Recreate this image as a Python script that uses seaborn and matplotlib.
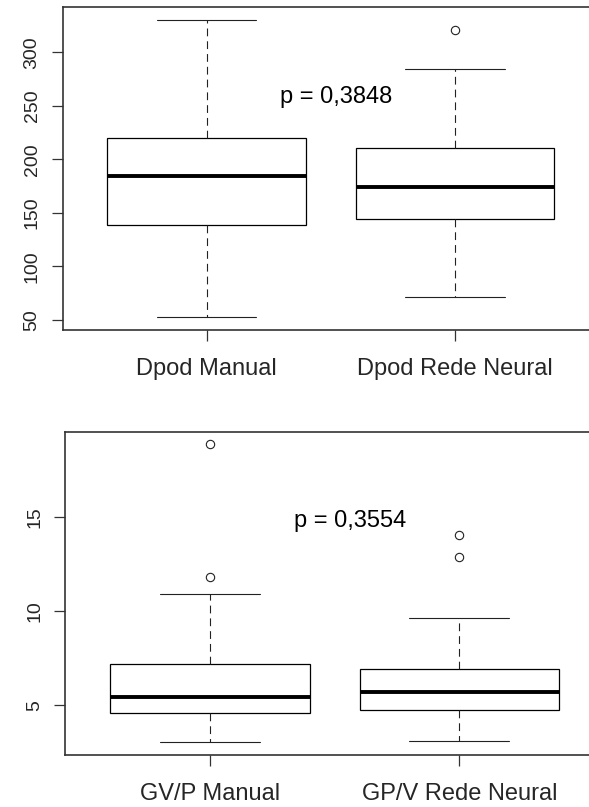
import numpy as np
import pandas as pd
import matplotlib
matplotlib.use("Agg")
import matplotlib.pyplot as plt
import seaborn as sns

# ---- data (five-number summaries + outliers) ----
top_categories = ["Dpod Manual", "Dpod Rede Neural"]
top_lo = [52.5, 71.0]
top_q1 = [138.5, 144.0]
top_med = [184.8, 174.5]
top_q3 = [220.0, 211.0]
top_hi = [330.0, 284.0]
top_out = [[], [321.0]]
top_yticks = [50, 100, 150, 200, 250, 300]
top_ptext = "p = 0,3848"

bot_categories = ["GV/P Manual", "GP/V Rede Neural"]
bot_lo = [3.03, 3.1]
bot_q1 = [4.56, 4.74]
bot_med = [5.45, 5.7]
bot_q3 = [7.17, 6.9]
bot_hi = [10.9, 9.62]
bot_out = [[11.8, 18.85], [12.85, 14.05]]
bot_yticks = [5, 10, 15]
bot_ptext = "p = 0,3554"


def observations(cats, lo, q1, med, q3, hi, outs):
    """Build observations whose quartiles / whiskers equal the read summary."""
    rows = []
    for c, a, b, m, d, e, o in zip(cats, lo, q1, med, q3, hi, outs):
        k = len(o)
        r = k + 1
        vals = [a] + [b] * r + [m] * r + [d] * r + [e] + list(o)
        rows += [(c, v) for v in vals]
    return pd.DataFrame(rows, columns=["group", "value"])


sns.set_style("white")
plt.rcParams["font.family"] = ["Liberation Sans", "DejaVu Sans"]

fig = plt.figure(figsize=(5.89, 8.07), dpi=100)
ax1 = fig.add_axes([0.1065, 0.5911, 0.9105, 0.4002])
ax2 = fig.add_axes([0.111, 0.0644, 0.9144, 0.4006])

box_kw = dict(
    width=0.8,
    whis=1.5,
    color="white",
    linecolor="black",
    linewidth=0.8,
    saturation=1,
    boxprops=dict(linewidth=0.9, edgecolor="black", facecolor="white"),
    medianprops=dict(linewidth=2.8, color="black"),
    whiskerprops=dict(linewidth=0.8, color="#222222", linestyle=(0, (7.0, 4.5))),
    capprops=dict(linewidth=0.8, color="#222222"),
    flierprops=dict(marker="o", markersize=6, markerfacecolor="none",
                    markeredgecolor="#222222", markeredgewidth=0.8),
)

panels = [
    (ax1, top_categories, top_lo, top_q1, top_med, top_q3, top_hi, top_out,
     top_yticks, (40.6, 342.3), top_ptext, (0.52, 258.5)),
    (ax2, bot_categories, bot_lo, bot_q1, bot_med, bot_q3, bot_hi, bot_out,
     bot_yticks, (2.35, 19.51), bot_ptext, (0.56, 14.75)),
]

for ax, cats, lo, q1, med, q3, hi, outs, yt, ylim, ptxt, ppos in panels:
    df = observations(cats, lo, q1, med, q3, hi, outs)
    sns.boxplot(data=df, x="group", y="value", order=cats, ax=ax, **box_kw)
    ax.set_xlim(-0.58, 1.58)
    ax.set_ylim(*ylim)
    ax.set_yticks(yt)
    ax.set_yticklabels([str(v) for v in yt], rotation=90, va="center",
                       fontsize=14)
    ax.set_xticks([0, 1])
    ax.set_xticklabels(cats, fontsize=17)
    ax.set_xlabel("")
    ax.set_ylabel("")
    ax.tick_params(axis="both", direction="out", length=8, width=0.9,
                   color="#333333", left=True, bottom=True)
    ax.tick_params(axis="x", pad=12)
    ax.tick_params(axis="y", pad=8)
    for s in ax.spines.values():
        s.set_visible(True)
        s.set_color("#333333")
        s.set_linewidth(1.2)
    ax.text(ppos[0], ppos[1], ptxt, ha="center", va="center", fontsize=17,
            color="black")

fig.savefig("out.png", dpi=100)
